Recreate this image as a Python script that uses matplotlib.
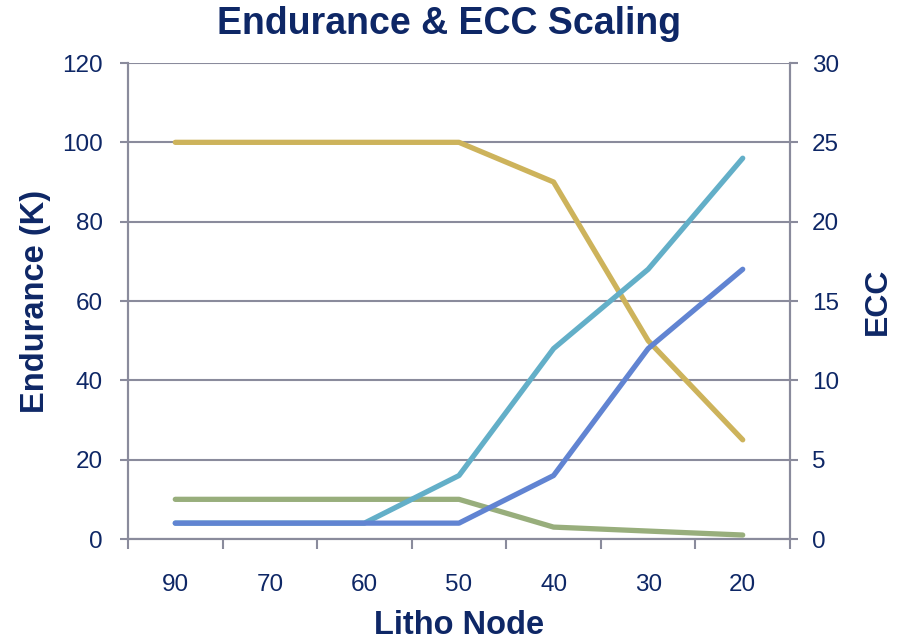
import matplotlib
matplotlib.use('Agg')
import matplotlib.pyplot as plt
import numpy as np

plt.rcParams['font.family'] = ['Liberation Sans', 'DejaVu Sans']

# Данные
nodes = ['90', '70', '60', '50', '40', '30', '20']
endurance_a = [100, 100, 100, 100, 90, 50, 25]   # золотая линия (левая ось)
endurance_b = [10, 10, 10, 10, 3, 2, 1]          # зелёная линия (левая ось)
ecc_a = [1, 1, 1, 4, 12, 17, 24]                 # голубая линия (правая ось)
ecc_b = [1, 1, 1, 1, 4, 12, 17]                  # синяя линия (правая ось)

navy = '#0E2766'
axis_gray = '#8A8B9C'

fig = plt.figure(figsize=(9.07, 6.42), dpi=100)
ax = fig.add_axes([128 / 907, 1 - 539 / 642, (790 - 128) / 907, (539 - 63) / 642])
ax2 = ax.twinx()

x = np.arange(len(nodes))
lw = 3.8
ax.plot(x, endurance_a, color='#CDB35B', lw=lw, solid_capstyle='round', zorder=3)
ax.plot(x, endurance_b, color='#98AE7C', lw=lw, solid_capstyle='round', zorder=3)
ax2.plot(x, ecc_a, color='#63AFC8', lw=lw, solid_capstyle='round')
ax2.plot(x, ecc_b, color='#6184D2', lw=lw, solid_capstyle='round')

ax.set_xlim(-0.5, len(nodes) - 0.5)
ax.set_ylim(0, 120)
ax2.set_ylim(0, 30)
ax.set_yticks(np.arange(0, 121, 20))
ax2.set_yticks(np.arange(0, 31, 5))

# Подписи категорий по центру, засечки между категориями
ax.set_xticks(x)
ax.set_xticklabels(nodes)
ax.set_xticks(np.arange(-0.5, len(nodes)), minor=True)
ax.tick_params(axis='x', which='major', length=0, pad=25, labelsize=17.5, labelcolor=navy)
ax.tick_params(axis='x', which='minor', length=7, width=1.5, color=axis_gray, direction='out')
ax.tick_params(axis='y', length=6, width=1.5, color=axis_gray, pad=12, labelsize=17.5, labelcolor=navy)
ax2.tick_params(axis='y', length=6, width=1.5, color=axis_gray, pad=10, labelsize=17.5, labelcolor=navy)

ax.yaxis.grid(True, color=axis_gray, lw=1.5)
ax.set_axisbelow(True)

for a in (ax, ax2):
    a.spines['top'].set_visible(False)
    for s in ('left', 'right', 'bottom'):
        a.spines[s].set_color(axis_gray)
        a.spines[s].set_linewidth(1.5)

ax.set_title('Endurance & ECC Scaling', fontsize=27, fontweight='bold', color=navy,
             pad=21, x=0.485)
ax.set_xlabel('Litho Node', fontsize=23.5, fontweight='bold', color=navy, labelpad=10)
ax.set_ylabel('Endurance (K)', fontsize=23.5, fontweight='bold', color=navy, labelpad=8)
ax2.set_ylabel('ECC', fontsize=23, fontweight='bold', color=navy, labelpad=17)

fig.savefig('out.png', dpi=100)
